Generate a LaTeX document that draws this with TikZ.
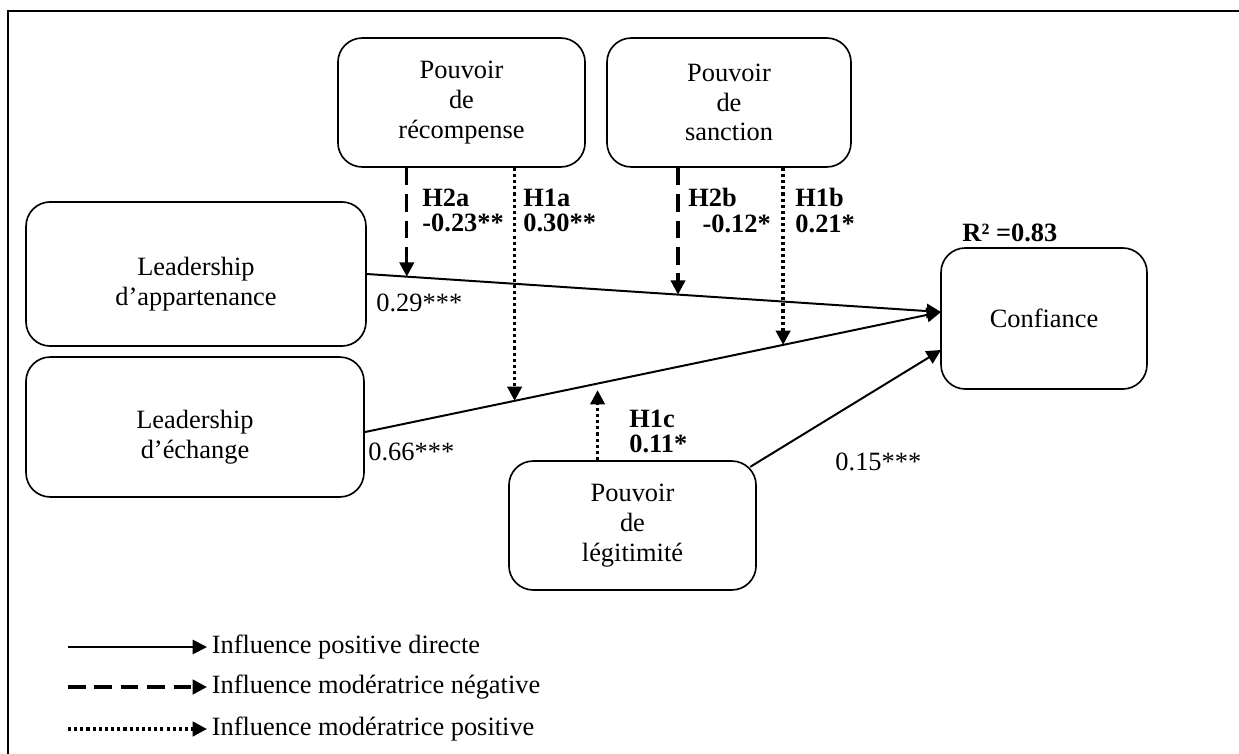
\documentclass[tikz,border=0pt]{standalone}
\usepackage{fontspec}
\setmainfont{Liberation Serif}
\usepackage{tikz}
\usetikzlibrary{arrows.meta, positioning}
\newcommand{\padtop}{\rule{0pt}{17.5pt}}
\tikzset{
  box/.style={rectangle, draw, line width=0.75pt, rounded corners=11pt,
              align=center, inner sep=0pt, font=\fontsize{12}{13.5}\selectfont},
  coef/.style={anchor=west, align=left, inner sep=0pt,
               font=\bfseries\fontsize{12}{11.5}\selectfont},
  val/.style={anchor=west, inner sep=0pt, font=\fontsize{12}{13.5}\selectfont},
  direct/.style={-{Triangle[length=6.5pt, width=6.5pt]}, line width=0.9pt},
  negmod/.style={-{Triangle[length=6.5pt, width=6.5pt]}, line width=1.5pt,
                 dash pattern=on 8pt off 4pt},
  posmod/.style={-{Triangle[length=6.5pt, width=6.5pt]}, line width=1.5pt,
                 dash pattern=on 1.4pt off 1.4pt},
  frame/.style={line width=0.9pt}
}

\begin{document}
\begin{tikzpicture}[x=0.4545pt, y=-0.4545pt]

  \useasboundingbox (0,0) rectangle (1239,754);
  \draw[frame] (8,754) -- (8,11) -- (1239,11);

  % moderators on top
  \node[box, minimum width=112.3pt, minimum height=58.6pt]
    (recomp) at (461.5,102.5) {Pouvoir\\de\\récompense};
  \node[box, minimum width=110.9pt, minimum height=58.6pt]
    (sanct) at (729,102.5) {Pouvoir\\de\\sanction};

  % leadership styles
  \node[box, minimum width=154.5pt, minimum height=65.5pt]
    (appart) at (196,274) {\padtop Leadership\\d’appartenance};
  \node[box, minimum width=153.6pt, minimum height=63.6pt]
    (echange) at (195,427) {\padtop Leadership\\d’échange};

  % legitimacy
  \node[box, minimum width=112.3pt, minimum height=58.6pt]
    (legit) at (632.5,525.5) {Pouvoir\\de\\légitimité};

  % outcome
  \node[box, minimum width=93.6pt, minimum height=64.1pt]
    (conf) at (1044,318.5) {Confiance};
  \node[coef] (r2) at (962,233) {R² =0.83};

  \coordinate (cin1) at (941,312);
  \coordinate (cin2) at (941,350);

  % direct effects
  \draw[direct] (appart.east) -- coordinate[pos=0.0697] (t2a)
    coordinate[pos=0.542] (t2b) (cin1);
  \draw[direct] ([yshift=-2.3pt]echange.east) -- coordinate[pos=0.26] (t1a)
    coordinate[pos=0.404] (t1c) coordinate[pos=0.726] (t1b) (cin1);
  \draw[direct] ([xshift=-3pt, yshift=-3pt]legit.north east) -- (cin2);

  % moderating effects
  \draw[negmod] (recomp.south -| t2a) -- (t2a);
  \draw[posmod] (recomp.south -| t1a) -- (t1a);
  \draw[negmod] (sanct.south -| t2b) -- (t2b);
  \draw[posmod] (sanct.south -| t1b) -- (t1b);
  \draw[posmod] (legit.north -| t1c) -- ([yshift=-3pt]t1c);

  % coefficients
  \node[coef] (h2a) at (422,210.5) {H2a\\-0.23**};
  \node[coef] (h1a) at (523,210.5) {H1a\\0.30**};
  \node[coef] (h2b) at (688,210.5) {H2b\\\hspace*{6.4pt}-0.12*};
  \node[coef] (h1b) at (795,210.5) {H1b\\0.21*};
  \node[coef] (h1c) at (629,431.5) {H1c\\0.11*};
  \node[val] (p29) at (376,303) {0.29***};
  \node[val] (p66) at (368,452) {0.66***};
  \node[val] (p15) at (835,462) {0.15***};

  % legend
  \coordinate (la1) at (68,647);
  \coordinate (la2) at (68,687);
  \coordinate (la3) at (68,729);
  \node[val, inner sep=2pt] (lg1) at (207,647) {Influence positive directe};
  \node[val, inner sep=2pt] (lg2) at (207,687) {Influence modératrice négative};
  \node[val, inner sep=2pt] (lg3) at (207,729) {Influence modératrice positive};
  \draw[direct] (la1) -- (lg1.west);
  \draw[negmod] (la2) -- (lg2.west);
  \draw[posmod] (la3) -- (lg3.west);

\end{tikzpicture}
\end{document}
